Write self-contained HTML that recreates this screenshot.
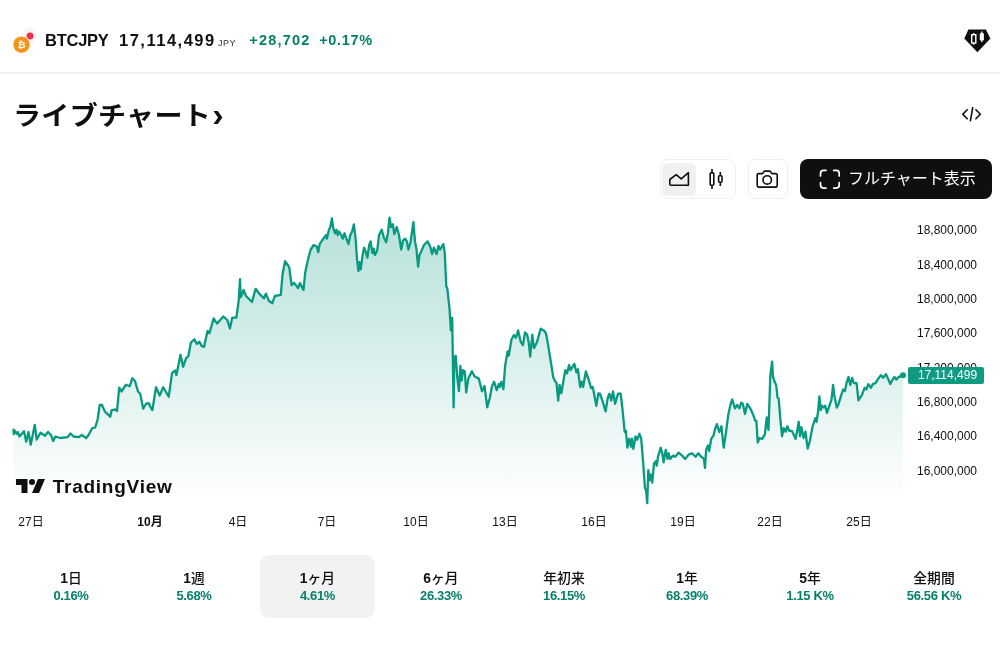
<!DOCTYPE html>
<html lang="ja"><head><meta charset="utf-8"><title>BTCJPY</title>
<style>
html,body{margin:0;padding:0;background:#fff;}
body{width:1000px;height:667px;position:relative;overflow:hidden;font-family:"Liberation Sans","Noto Sans CJK JP",sans-serif;color:#0f0f0f;}
.abs{position:absolute;white-space:nowrap;}
.hdr{position:absolute;left:0;top:0;width:1000px;height:72px;border-bottom:2px solid #f1f1f1;}
.sym{left:45px;top:30px;font-size:16.5px;font-weight:700;line-height:20px;color:#0f0f0f;letter-spacing:-0.25px;}
.price{left:119px;top:30px;font-size:16.5px;font-weight:700;line-height:20px;letter-spacing:1.5px;}
.cur{left:218px;top:37px;font-size:9px;line-height:12px;color:#333;letter-spacing:0.5px;}
.chg{top:30px;font-size:14.5px;font-weight:700;line-height:20px;color:#06806b;letter-spacing:1.2px;}
.title{left:13px;top:93.700px;font-size:28px;font-weight:700;line-height:40px;color:#0f0f0f;letter-spacing:0.35px;}
.title .t{display:inline-block;transform:scaleY(0.93);transform-origin:50% 50%;}
.yl{position:absolute;left:908px;width:78px;text-align:center;font-size:12px;line-height:16px;color:#0f0f0f;}
.xl{position:absolute;top:514px;width:60px;text-align:center;font-size:12px;line-height:16px;color:#0f0f0f;}
.xl.b{font-weight:700;}
.plabel{position:absolute;left:908px;top:367px;width:76px;height:17px;background:#0e9b82;border-radius:2px;color:#fff;font-size:12px;line-height:17px;text-align:center;padding-left:3px;box-sizing:border-box;}
.rng{position:absolute;top:569px;width:120px;text-align:center;}
.rl{font-size:13.8px;line-height:17px;font-weight:500;color:#0f0f0f;position:relative;top:0.500px;}
.rp{font-size:13px;line-height:17px;font-weight:700;color:#06806b;letter-spacing:-0.35px;position:relative;top:0.500px;}
.sel{position:absolute;left:260px;top:555px;width:115px;height:63px;border-radius:9px;background:#f2f2f2;}
.btnbox{position:absolute;border:1px solid #efefef;border-radius:8px;box-sizing:border-box;background:#fff;}
.full{position:absolute;left:800px;top:159px;width:192px;height:40px;border-radius:8px;background:#0f0f0f;color:#fff;}
.full span{position:absolute;left:48px;top:9px;font-size:16px;line-height:22px;white-space:nowrap;}
.tv{left:52.7px;top:474.5px;font-size:19px;font-weight:700;line-height:24px;color:#0f0f0f;letter-spacing:0.75px;}
</style></head><body>
<div class="hdr"></div>
<svg class="abs" style="left:12px;top:26px" width="28" height="30" viewBox="0 0 28 30">
<circle cx="18" cy="9.300" r="7.500" fill="#f5f4f8"/><circle cx="18" cy="10.100" r="3.500" fill="#ea3348"/>
<circle cx="9.500" cy="18.600" r="8.700" fill="#f7931a" stroke="#fff" stroke-width="1"/>
<text x="9.600" y="22.300" font-size="9.500" font-weight="700" fill="#fff" text-anchor="middle" font-family="DejaVu Sans, sans-serif">₿</text>
</svg>
<div class="abs sym">BTCJPY</div>
<div class="abs price">17,114,499</div>
<div class="abs cur">JPY</div>
<div class="abs chg" style="left:249.300px">+28,702</div>
<div class="abs chg" style="left:319.200px;letter-spacing:0.650px">+0.17%</div>
<svg class="abs" style="left:962px;top:27px" width="32" height="28" viewBox="0 0 32 28">
<path d="M6.400 2.400 L23.900 2.400 L28.400 11.400 L15.400 25.300 L2.300 11.400 Z" fill="#0f0f0f"/>
<rect x="9.700" y="7.700" width="4.100" height="8.300" fill="none" stroke="#fff" stroke-width="1.400"/><path d="M11.750 6v1.700M11.750 16v1.700" stroke="#fff" stroke-width="1.400"/>
<rect x="17.800" y="6.300" width="4.100" height="7" fill="#fff"/><path d="M19.850 4.600v10.400" stroke="#fff" stroke-width="1.400"/>
</svg>
<div class="abs title"><span class="t">ライブチャート</span><span style="font-size:34px;letter-spacing:0;margin-left:1px;position:relative;top:0.800px">›</span></div>
<svg class="abs" style="left:950px;top:100px" width="40" height="30" viewBox="950 100 40 30">
<path d="M967.700 109.300 L962.800 114.200 L967.700 119.300 M975.400 109.300 L980.300 114.200 L975.400 119.300 M972.800 107.100 L970.300 121.400" fill="none" stroke="#0f0f0f" stroke-width="1.600" stroke-linejoin="miter"/>
</svg>

<div class="btnbox" style="left:659.5px;top:159px;width:76.500px;height:40px"></div>
<div class="abs" style="left:662px;top:162.500px;width:33.500px;height:33px;border-radius:6px;background:#f0f0f0"></div>
<div class="btnbox" style="left:747.5px;top:159px;width:40.500px;height:40px"></div>
<svg class="abs" style="left:655px;top:155px" width="140" height="50" viewBox="655 155 140 50">
<g fill="none" stroke="#0f0f0f" stroke-width="1.600" stroke-linejoin="round">
<path d="M669.800 184 V179.500 L676.200 174.700 L681.200 178.800 L688.400 172.700 V185.200 H671 a1.200 1.200 0 0 1 -1.200 -1.200 Z"/>
<rect x="710.200" y="172.900" width="3.600" height="12.300" rx="1"/><path d="M712 169v3.900M712 185.200v3.800"/>
<rect x="718.600" y="175.800" width="3.400" height="6.400" rx="1"/><path d="M720.300 172.100v3.700M720.300 182.200v3.800"/>
<path d="M762.600 173.600 L764.300 171.100 H770.100 L771.800 173.600 H775.700 a1.500 1.500 0 0 1 1.500 1.500 V185.600 a1.500 1.500 0 0 1 -1.500 1.500 H758.700 a1.500 1.500 0 0 1 -1.500 -1.500 V175.100 a1.500 1.500 0 0 1 1.500 -1.500 Z"/>
<circle cx="767.200" cy="179.900" r="4.200"/>
</g></svg>
<div class="full">
<svg class="abs" style="left:16px;top:6px" width="28" height="28" viewBox="816 165 28 28">
<path d="M820.500 176 V173.400 a3 3 0 0 1 3 -3 H826 M833.700 170.400 H836.200 a3 3 0 0 1 3 3 V176 M839.200 182.500 V185.100 a3 3 0 0 1 -3 3 H833.700 M826 188.100 H823.500 a3 3 0 0 1 -3 -3 V182.500" fill="none" stroke="#fff" stroke-width="1.700" stroke-linecap="round"/>
</svg>
<span>フルチャート表示</span></div>

<svg class="abs" style="left:0;top:200px" width="1000" height="310" viewBox="0 200 1000 310">
<defs><linearGradient id="g" x1="0" y1="0" x2="0" y2="1" gradientUnits="userSpaceOnUse" gradientTransform="translate(0,215) scale(1,288)">
<stop offset="0" stop-color="#089981" stop-opacity="0.30"/><stop offset="1" stop-color="#089981" stop-opacity="0"/></linearGradient></defs>
<path d="M13.5,429.7 L13.8,434.2 L15.0,430.8 L16.9,433.8 L18.0,432.3 L19.5,436.5 L24.0,431.2 L26.2,441.7 L28.5,432.0 L30.7,444.7 L34.8,424.8 L36.7,439.5 L40.5,432.7 L45.0,435.7 L48.0,432.0 L51.0,435.0 L53.2,441.0 L55.5,436.5 L60.0,438.0 L67.5,437.2 L70.5,433.5 L73.5,436.5 L78.7,437.2 L81.7,435.0 L86.2,438.0 L88.5,435.0 L92.2,428.2 L95.2,427.5 L97.5,420.0 L99.7,405.0 L102.0,405.0 L105.0,411.7 L110.2,416.7 L111.7,410.2 L115.5,409.5 L117.0,411.0 L119.2,387.7 L121.5,391.5 L126.0,384.7 L129.7,386.2 L132.3,378.3 L135.0,381.0 L138.0,391.5 L140.2,393.7 L143.2,408.7 L146.2,403.5 L149.2,403.5 L150.0,406.4 L152.4,410.0 L156.0,387.2 L159.6,395.6 L163.2,387.2 L168.7,396.8 L172.1,372.8 L175.2,370.4 L176.4,375.2 L180.5,354.8 L183.1,366.8 L186.0,358.4 L188.4,356.0 L190.8,342.8 L194.4,339.2 L196.8,344.0 L199.2,341.6 L201.6,345.9 L204.0,346.9 L207.6,330.8 L209.5,333.2 L213.6,318.3 L217.2,323.6 L223.2,316.4 L227.3,320.0 L229.9,328.4 L232.3,317.6 L236.4,317.6 L238.8,299.6 L240.0,279.2 L240.7,297.2 L243.6,290.0 L246.0,296.0 L252.0,302.0 L255.6,288.8 L259.2,293.6 L264.0,298.4 L265.9,293.6 L268.8,300.8 L272.4,303.2 L274.8,296.0 L280.8,294.8 L282.5,274.4 L285.1,261.2 L289.2,267.2 L291.6,285.2 L294.0,282.8 L296.4,285.9 L298.1,288.1 L299.9,283.1 L303.5,289.9 L305.3,272.0 L308.0,259.4 L310.7,249.5 L313.7,245.0 L317.0,246.8 L318.2,252.2 L319.7,244.1 L323.3,238.7 L326.0,235.1 L326.9,238.7 L328.7,230.6 L330.5,226.1 L331.9,218.5 L333.2,227.9 L335.0,233.3 L336.4,229.7 L337.7,235.1 L338.9,231.5 L341.3,235.1 L342.7,238.7 L344.5,233.3 L346.1,237.8 L348.5,244.1 L350.3,235.1 L352.1,231.5 L353.9,224.3 L355.7,239.6 L356.9,257.6 L358.4,271.1 L359.3,262.1 L360.7,269.3 L362.5,255.8 L364.1,247.7 L365.9,252.2 L367.4,257.6 L369.2,245.0 L370.6,241.4 L372.4,253.1 L373.6,248.6 L374.9,254.9 L377.2,250.4 L379.0,235.1 L381.7,229.7 L383.9,237.8 L386.2,242.3 L388.0,232.4 L389.5,217.6 L391.1,227.0 L392.9,224.3 L394.3,234.2 L396.7,227.0 L398.8,234.2 L401.2,249.5 L403.0,240.5 L405.1,238.7 L406.9,241.4 L408.4,249.5 L410.5,242.3 L412.3,229.7 L413.4,222.1 L415.0,241.4 L416.5,249.5 L418.1,266.6 L419.5,254.9 L421.3,251.3 L424.0,245.0 L427.6,241.4 L430.3,246.8 L432.1,254.0 L433.9,247.7 L436.6,254.0 L438.4,245.9 L440.2,249.5 L443.3,244.1 L444.7,252.2 L446.3,286.3 L447.3,288.4 L449.4,307.3 L450.9,330.4 L452.2,317.8 L453.6,407.4 L454.3,357.6 L455.7,355.6 L457.2,376.5 L458.9,391.2 L460.4,366.0 L461.6,380.7 L463.1,370.2 L464.8,371.3 L466.2,392.3 L468.3,378.6 L471.9,371.3 L474.6,376.5 L478.8,378.6 L482.0,391.2 L484.5,386.0 L487.2,407.4 L489.9,397.5 L492.0,386.0 L494.1,381.8 L496.7,390.2 L498.8,383.9 L499.8,387.0 L501.5,381.8 L503.4,389.1 L505.1,366.0 L507.6,351.4 L508.8,355.6 L511.4,339.8 L513.9,335.0 L516.0,337.7 L518.1,330.4 L520.8,341.9 L522.9,345.1 L525.0,332.5 L527.1,334.6 L528.8,343.0 L530.2,356.6 L532.3,334.6 L534.0,348.2 L537.0,341.9 L540.7,328.7 L543.9,330.4 L546.0,333.5 L548.1,345.1 L550.8,361.8 L553.3,377.6 L555.4,381.8 L556.5,382.8 L558.2,400.7 L559.6,384.9 L561.3,393.3 L563.8,378.6 L565.3,370.2 L567.0,373.4 L569.1,365.0 L570.5,370.2 L574.3,363.9 L576.4,372.3 L577.9,369.2 L580.2,387.0 L581.7,381.8 L583.1,387.0 L585.9,371.3 L589.0,380.7 L591.1,388.1 L592.8,387.0 L596.3,405.9 L598.4,393.3 L600.0,393.7 L602.7,401.6 L605.6,411.3 L607.9,397.1 L609.4,393.7 L611.2,400.5 L613.0,391.5 L615.1,403.8 L618.0,393.7 L620.7,393.7 L622.5,409.5 L624.7,432.0 L625.9,430.8 L627.4,447.7 L629.2,438.7 L631.0,446.6 L631.9,438.7 L633.3,448.8 L635.5,436.5 L637.1,439.8 L639.4,433.8 L641.2,438.7 L643.2,463.4 L645.0,488.2 L646.1,490.4 L647.2,503.2 L648.3,470.2 L649.9,480.3 L651.0,474.7 L652.2,482.6 L654.0,463.4 L655.8,461.2 L656.7,465.7 L658.0,456.7 L660.7,447.7 L662.5,454.4 L663.6,462.3 L665.7,449.9 L667.5,458.9 L668.6,453.3 L670.2,458.9 L673.1,455.6 L675.3,456.7 L678.7,452.6 L682.1,455.6 L685.0,458.9 L688.8,454.4 L692.2,453.3 L695.6,456.7 L698.3,453.3 L701.2,456.7 L703.9,458.9 L705.0,467.9 L706.1,449.9 L707.9,445.5 L709.1,451.1 L711.3,438.7 L713.6,435.3 L715.1,428.6 L716.9,424.1 L719.2,432.0 L721.4,426.3 L723.7,447.7 L725.9,433.1 L728.2,415.1 L730.4,405.0 L732.2,399.4 L734.9,408.3 L737.2,405.0 L739.4,408.3 L741.2,402.7 L742.8,403.8 L745.0,414.0 L747.3,403.8 L750.2,408.3 L752.9,414.0 L755.2,420.7 L756.4,420.9 L757.7,442.5 L759.5,438.0 L762.2,438.9 L764.9,434.4 L766.7,417.4 L768.5,429.9 L770.3,376.0 L772.1,361.6 L773.0,376.9 L774.8,382.3 L776.2,385.0 L777.5,397.6 L778.7,398.5 L780.2,417.4 L782.0,436.2 L783.8,428.1 L785.6,431.7 L787.4,426.3 L789.2,430.8 L791.9,430.8 L795.5,438.9 L797.3,429.9 L798.7,421.8 L800.0,436.2 L801.4,427.2 L803.6,438.0 L805.4,431.7 L807.7,448.5 L809.9,440.7 L812.6,426.3 L815.3,418.3 L816.5,421.8 L818.0,412.0 L819.4,396.3 L820.7,410.2 L821.9,405.7 L823.7,407.5 L825.2,405.7 L827.0,412.9 L829.7,404.8 L831.5,399.4 L833.1,385.0 L834.2,394.9 L836.8,407.5 L838.6,403.9 L841.0,395.8 L843.1,389.5 L844.9,391.3 L846.7,382.3 L848.5,376.9 L850.3,385.0 L852.1,377.8 L853.9,383.2 L856.6,383.2 L858.4,400.3 L862.0,394.9 L864.7,387.7 L866.5,389.5 L868.3,384.1 L871.0,387.7 L872.8,384.1 L875.5,383.2 L878.2,378.7 L880.9,375.1 L883.1,377.8 L886.0,374.2 L888.1,378.7 L890.3,384.1 L892.1,380.5 L894.4,376.9 L896.2,379.6 L898.9,376.9 L902.9,375.1 L902.9,504 L13.5,504 Z" fill="url(#g)"/>
<path d="M13.5,429.7 L13.8,434.2 L15.0,430.8 L16.9,433.8 L18.0,432.3 L19.5,436.5 L24.0,431.2 L26.2,441.7 L28.5,432.0 L30.7,444.7 L34.8,424.8 L36.7,439.5 L40.5,432.7 L45.0,435.7 L48.0,432.0 L51.0,435.0 L53.2,441.0 L55.5,436.5 L60.0,438.0 L67.5,437.2 L70.5,433.5 L73.5,436.5 L78.7,437.2 L81.7,435.0 L86.2,438.0 L88.5,435.0 L92.2,428.2 L95.2,427.5 L97.5,420.0 L99.7,405.0 L102.0,405.0 L105.0,411.7 L110.2,416.7 L111.7,410.2 L115.5,409.5 L117.0,411.0 L119.2,387.7 L121.5,391.5 L126.0,384.7 L129.7,386.2 L132.3,378.3 L135.0,381.0 L138.0,391.5 L140.2,393.7 L143.2,408.7 L146.2,403.5 L149.2,403.5 L150.0,406.4 L152.4,410.0 L156.0,387.2 L159.6,395.6 L163.2,387.2 L168.7,396.8 L172.1,372.8 L175.2,370.4 L176.4,375.2 L180.5,354.8 L183.1,366.8 L186.0,358.4 L188.4,356.0 L190.8,342.8 L194.4,339.2 L196.8,344.0 L199.2,341.6 L201.6,345.9 L204.0,346.9 L207.6,330.8 L209.5,333.2 L213.6,318.3 L217.2,323.6 L223.2,316.4 L227.3,320.0 L229.9,328.4 L232.3,317.6 L236.4,317.6 L238.8,299.6 L240.0,279.2 L240.7,297.2 L243.6,290.0 L246.0,296.0 L252.0,302.0 L255.6,288.8 L259.2,293.6 L264.0,298.4 L265.9,293.6 L268.8,300.8 L272.4,303.2 L274.8,296.0 L280.8,294.8 L282.5,274.4 L285.1,261.2 L289.2,267.2 L291.6,285.2 L294.0,282.8 L296.4,285.9 L298.1,288.1 L299.9,283.1 L303.5,289.9 L305.3,272.0 L308.0,259.4 L310.7,249.5 L313.7,245.0 L317.0,246.8 L318.2,252.2 L319.7,244.1 L323.3,238.7 L326.0,235.1 L326.9,238.7 L328.7,230.6 L330.5,226.1 L331.9,218.5 L333.2,227.9 L335.0,233.3 L336.4,229.7 L337.7,235.1 L338.9,231.5 L341.3,235.1 L342.7,238.7 L344.5,233.3 L346.1,237.8 L348.5,244.1 L350.3,235.1 L352.1,231.5 L353.9,224.3 L355.7,239.6 L356.9,257.6 L358.4,271.1 L359.3,262.1 L360.7,269.3 L362.5,255.8 L364.1,247.7 L365.9,252.2 L367.4,257.6 L369.2,245.0 L370.6,241.4 L372.4,253.1 L373.6,248.6 L374.9,254.9 L377.2,250.4 L379.0,235.1 L381.7,229.7 L383.9,237.8 L386.2,242.3 L388.0,232.4 L389.5,217.6 L391.1,227.0 L392.9,224.3 L394.3,234.2 L396.7,227.0 L398.8,234.2 L401.2,249.5 L403.0,240.5 L405.1,238.7 L406.9,241.4 L408.4,249.5 L410.5,242.3 L412.3,229.7 L413.4,222.1 L415.0,241.4 L416.5,249.5 L418.1,266.6 L419.5,254.9 L421.3,251.3 L424.0,245.0 L427.6,241.4 L430.3,246.8 L432.1,254.0 L433.9,247.7 L436.6,254.0 L438.4,245.9 L440.2,249.5 L443.3,244.1 L444.7,252.2 L446.3,286.3 L447.3,288.4 L449.4,307.3 L450.9,330.4 L452.2,317.8 L453.6,407.4 L454.3,357.6 L455.7,355.6 L457.2,376.5 L458.9,391.2 L460.4,366.0 L461.6,380.7 L463.1,370.2 L464.8,371.3 L466.2,392.3 L468.3,378.6 L471.9,371.3 L474.6,376.5 L478.8,378.6 L482.0,391.2 L484.5,386.0 L487.2,407.4 L489.9,397.5 L492.0,386.0 L494.1,381.8 L496.7,390.2 L498.8,383.9 L499.8,387.0 L501.5,381.8 L503.4,389.1 L505.1,366.0 L507.6,351.4 L508.8,355.6 L511.4,339.8 L513.9,335.0 L516.0,337.7 L518.1,330.4 L520.8,341.9 L522.9,345.1 L525.0,332.5 L527.1,334.6 L528.8,343.0 L530.2,356.6 L532.3,334.6 L534.0,348.2 L537.0,341.9 L540.7,328.7 L543.9,330.4 L546.0,333.5 L548.1,345.1 L550.8,361.8 L553.3,377.6 L555.4,381.8 L556.5,382.8 L558.2,400.7 L559.6,384.9 L561.3,393.3 L563.8,378.6 L565.3,370.2 L567.0,373.4 L569.1,365.0 L570.5,370.2 L574.3,363.9 L576.4,372.3 L577.9,369.2 L580.2,387.0 L581.7,381.8 L583.1,387.0 L585.9,371.3 L589.0,380.7 L591.1,388.1 L592.8,387.0 L596.3,405.9 L598.4,393.3 L600.0,393.7 L602.7,401.6 L605.6,411.3 L607.9,397.1 L609.4,393.7 L611.2,400.5 L613.0,391.5 L615.1,403.8 L618.0,393.7 L620.7,393.7 L622.5,409.5 L624.7,432.0 L625.9,430.8 L627.4,447.7 L629.2,438.7 L631.0,446.6 L631.9,438.7 L633.3,448.8 L635.5,436.5 L637.1,439.8 L639.4,433.8 L641.2,438.7 L643.2,463.4 L645.0,488.2 L646.1,490.4 L647.2,503.2 L648.3,470.2 L649.9,480.3 L651.0,474.7 L652.2,482.6 L654.0,463.4 L655.8,461.2 L656.7,465.7 L658.0,456.7 L660.7,447.7 L662.5,454.4 L663.6,462.3 L665.7,449.9 L667.5,458.9 L668.6,453.3 L670.2,458.9 L673.1,455.6 L675.3,456.7 L678.7,452.6 L682.1,455.6 L685.0,458.9 L688.8,454.4 L692.2,453.3 L695.6,456.7 L698.3,453.3 L701.2,456.7 L703.9,458.9 L705.0,467.9 L706.1,449.9 L707.9,445.5 L709.1,451.1 L711.3,438.7 L713.6,435.3 L715.1,428.6 L716.9,424.1 L719.2,432.0 L721.4,426.3 L723.7,447.7 L725.9,433.1 L728.2,415.1 L730.4,405.0 L732.2,399.4 L734.9,408.3 L737.2,405.0 L739.4,408.3 L741.2,402.7 L742.8,403.8 L745.0,414.0 L747.3,403.8 L750.2,408.3 L752.9,414.0 L755.2,420.7 L756.4,420.9 L757.7,442.5 L759.5,438.0 L762.2,438.9 L764.9,434.4 L766.7,417.4 L768.5,429.9 L770.3,376.0 L772.1,361.6 L773.0,376.9 L774.8,382.3 L776.2,385.0 L777.5,397.6 L778.7,398.5 L780.2,417.4 L782.0,436.2 L783.8,428.1 L785.6,431.7 L787.4,426.3 L789.2,430.8 L791.9,430.8 L795.5,438.9 L797.3,429.9 L798.7,421.8 L800.0,436.2 L801.4,427.2 L803.6,438.0 L805.4,431.7 L807.7,448.5 L809.9,440.7 L812.6,426.3 L815.3,418.3 L816.5,421.8 L818.0,412.0 L819.4,396.3 L820.7,410.2 L821.9,405.7 L823.7,407.5 L825.2,405.7 L827.0,412.9 L829.7,404.8 L831.5,399.4 L833.1,385.0 L834.2,394.9 L836.8,407.5 L838.6,403.9 L841.0,395.8 L843.1,389.5 L844.9,391.3 L846.7,382.3 L848.5,376.9 L850.3,385.0 L852.1,377.8 L853.9,383.2 L856.6,383.2 L858.4,400.3 L862.0,394.9 L864.7,387.7 L866.5,389.5 L868.3,384.1 L871.0,387.7 L872.8,384.1 L875.5,383.2 L878.2,378.7 L880.9,375.1 L883.1,377.8 L886.0,374.2 L888.1,378.7 L890.3,384.1 L892.1,380.5 L894.4,376.9 L896.2,379.6 L898.9,376.9 L902.9,375.1" fill="none" stroke="#089981" stroke-width="2.300" stroke-linejoin="round" stroke-linecap="round"/>
<circle cx="903" cy="375.200" r="3" fill="#089981"/>
</svg>
<div class="yl" style="top:222px">18,800,000</div>
<div class="yl" style="top:257px">18,400,000</div>
<div class="yl" style="top:291px">18,000,000</div>
<div class="yl" style="top:325px">17,600,000</div>
<div class="yl" style="top:360px">17,200,000</div>
<div class="yl" style="top:394px">16,800,000</div>
<div class="yl" style="top:428px">16,400,000</div>
<div class="yl" style="top:463px">16,000,000</div>

<div class="plabel">17,114,499</div>
<div class="xl" style="left:1px">27日</div>
<div class="xl b" style="left:120px">10月</div>
<div class="xl" style="left:208px">4日</div>
<div class="xl" style="left:297px">7日</div>
<div class="xl" style="left:386px">10日</div>
<div class="xl" style="left:475px">13日</div>
<div class="xl" style="left:564px">16日</div>
<div class="xl" style="left:653px">19日</div>
<div class="xl" style="left:740px">22日</div>
<div class="xl" style="left:829px">25日</div>

<svg class="abs" style="left:14.5px;top:478.3px" width="32" height="16" viewBox="0 0 32 16">
<path d="M1 1 H12.500 V15 H6.500 V7 H1 Z" fill="#0f0f0f"/><circle cx="17" cy="4" r="3" fill="#0f0f0f"/><path d="M23 1 H30 L24 15 H17 Z" fill="#0f0f0f"/>
</svg>
<div class="abs tv">TradingView</div>

<div class="sel"></div>
<div class="rng" style="left:11px"><div class="rl"><b>1</b>日</div><div class="rp">0.16%</div></div>
<div class="rng" style="left:134px"><div class="rl"><b>1</b>週</div><div class="rp">5.68%</div></div>
<div class="rng" style="left:257.5px"><div class="rl"><b>1</b>ヶ月</div><div class="rp">4.61%</div></div>
<div class="rng" style="left:381px"><div class="rl"><b>6</b>ヶ月</div><div class="rp">26.33%</div></div>
<div class="rng" style="left:504px"><div class="rl">年初来</div><div class="rp">16.15%</div></div>
<div class="rng" style="left:627px"><div class="rl"><b>1</b>年</div><div class="rp">68.39%</div></div>
<div class="rng" style="left:750px"><div class="rl"><b>5</b>年</div><div class="rp">1.15 K%</div></div>
<div class="rng" style="left:874px"><div class="rl">全期間</div><div class="rp">56.56 K%</div></div>

</body></html>
